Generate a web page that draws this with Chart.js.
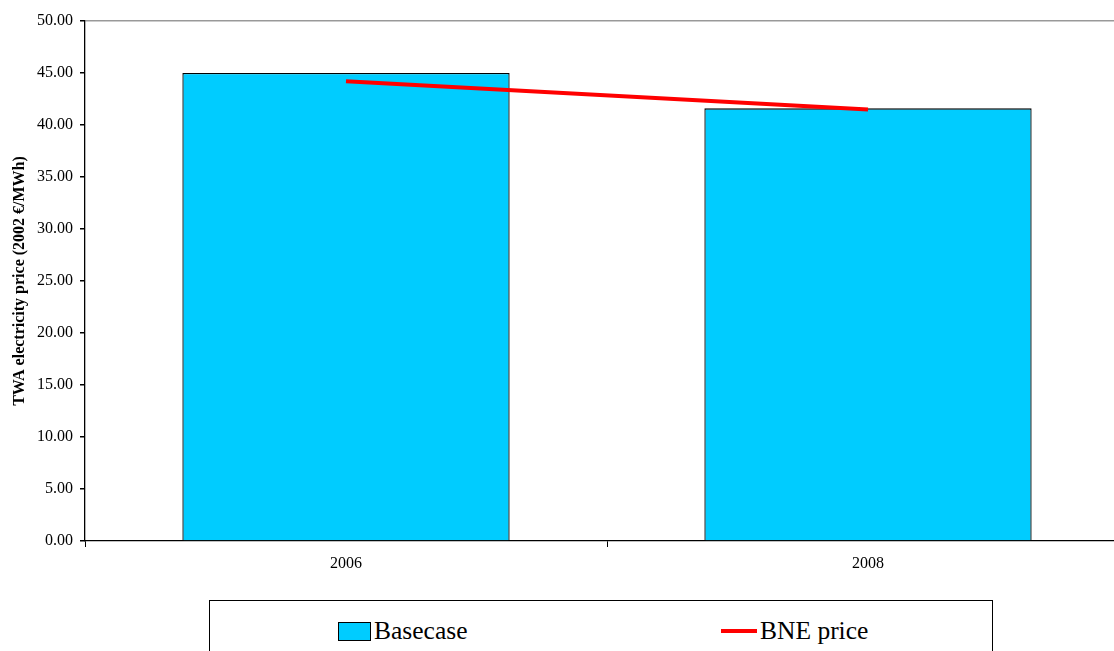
<!DOCTYPE html>
<html>
<head>
<meta charset="utf-8">
<script src="https://cdn.jsdelivr.net/npm/chart.js@4"></script>
<style>
  html, body { margin: 0; padding: 0; background: #fff; overflow: hidden; }
  #wrap { position: relative; width: 1114px; height: 651px; overflow: hidden; }
  #chart { position: absolute; left: 0; top: 0; }
  #legend {
    position: absolute; left: 209px; top: 600px; width: 784px; height: 70px;
    border: 1px solid #000; background: #fff; box-sizing: border-box;
    font-family: 'Liberation Serif', 'Times New Roman', serif; font-size: 25.5px; color: #000;
  }
  .item { position: absolute; top: 15px; display: flex; align-items: center; height: 30px; line-height: 30px; }
  .sw-box { width: 31px; height: 17px; border: 1px solid #000; margin-right: 3px; }
  .sw-line { width: 36px; height: 4px; margin-right: 3px; }
</style>
</head>
<body>
<div id="wrap">
  <canvas id="chart" width="1130" height="651"></canvas>
  <div id="legend"></div>
</div>
<script>
// Years on the category axis
const categories = ['2006', '2008'];
// Time-weighted average electricity price, base case (2002 €/MWh)
const basecaseValues = [45.0, 41.6];
// Bertrand-Nash equilibrium price (2002 €/MWh)
const bnePriceValues = [44.2, 41.5];
// Value axis ticks
const yTickValues = [0, 5, 10, 15, 20, 25, 30, 35, 40, 45, 50];

const serif = "'Liberation Serif', 'Times New Roman', serif";

const chart = new Chart(document.getElementById('chart'), {
  data: {
    labels: categories,
    datasets: [
      {
        type: 'line',
        label: 'BNE price',
        data: bnePriceValues,
        borderColor: '#ff0000',
        backgroundColor: '#ff0000',
        borderWidth: 4,
        pointRadius: 0,
        tension: 0,
        order: 0
      },
      {
        type: 'bar',
        label: 'Basecase',
        data: basecaseValues,
        backgroundColor: '#00ccff',
        borderColor: '#000000',
        borderWidth: 1.3,
        categoryPercentage: 1.0,
        barPercentage: 0.627,
        order: 1
      }
    ]
  },
  options: {
    responsive: false,
    animation: false,
    layout: { padding: { top: 21, left: 0, right: 1, bottom: 0 } },
    plugins: {
      legend: { display: false },
      tooltip: { enabled: false }
    },
    scales: {
      x: {
        offset: true,
        grid: { offset: true, drawOnChartArea: false, tickColor: '#000', tickLength: 6, lineWidth: 1 },
        border: { color: '#000', width: 1.3 },
        ticks: { color: '#000', font: { family: serif, size: 16 }, padding: 7, maxRotation: 0 },
        afterFit(scale) { scale.height = 110; }
      },
      y: {
        min: 0,
        max: 50,
        afterBuildTicks(scale) { scale.ticks = yTickValues.map(v => ({ value: v })); },
        grid: {
          color: ctx => (ctx.tick && ctx.tick.value === 50 ? '#999999' : 'rgba(0,0,0,0)'),
          lineWidth: 1.5,
          tickColor: '#000',
          tickLength: 5
        },
        border: { color: '#000', width: 1.3 },
        ticks: {
          color: '#000',
          font: { family: serif, size: 16 },
          padding: 7,
          callback: v => Number(v).toFixed(2)
        },
        title: {
          display: true,
          text: 'TWA electricity price (2002 €/MWh)',
          color: '#000',
          font: { family: serif, size: 16, weight: 'bold' },
          padding: { top: 10, bottom: 0 }
        },
        afterFit(scale) { scale.width = 85; }
      }
    }
  }
});

// Legend box built from the chart's datasets
const legend = document.getElementById('legend');
const itemLeft = { 'Basecase': 128, 'BNE price': 511 };
['Basecase', 'BNE price'].forEach(name => {
  const ds = chart.data.datasets.find(d => d.label === name);
  const item = document.createElement('div');
  item.className = 'item';
  item.style.left = itemLeft[name] + 'px';
  const sw = document.createElement('span');
  if (ds.type === 'bar') {
    sw.className = 'sw-box';
    sw.style.background = ds.backgroundColor;
  } else {
    sw.className = 'sw-line';
    sw.style.background = ds.borderColor;
  }
  const txt = document.createElement('span');
  txt.textContent = ds.label;
  item.appendChild(sw);
  item.appendChild(txt);
  legend.appendChild(item);
});
</script>
</body>
</html>
